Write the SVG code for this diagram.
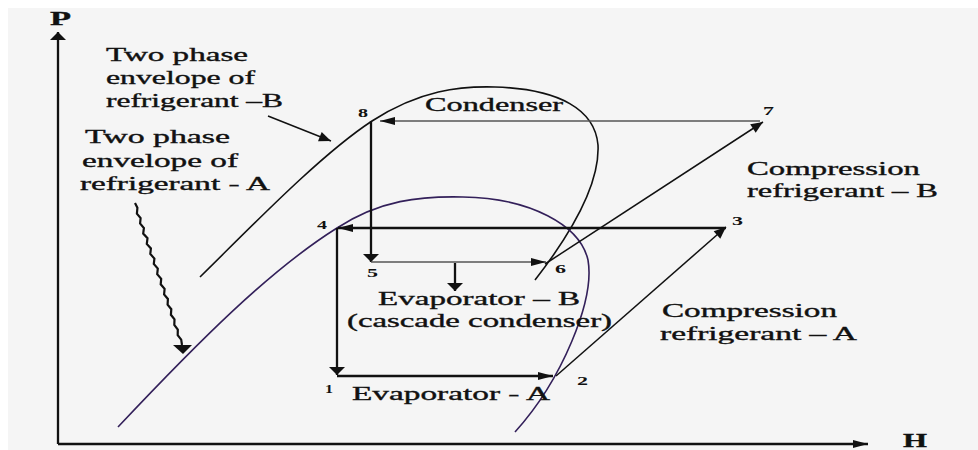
<svg xmlns="http://www.w3.org/2000/svg" width="978" height="450" viewBox="0 0 978 450">
<style>
.t{font-family:"Liberation Serif","Times New Roman",serif;font-size:18px;fill:#111;stroke:#111;stroke-width:0.35}
.n{font-family:"Liberation Serif","Times New Roman",serif;font-size:12px;fill:#111;font-weight:bold}
.thick{stroke:#111;stroke-width:2.3;fill:none}
.thin{stroke:#555;stroke-width:1.3;fill:none}
.mid{stroke:#111;stroke-width:1.5;fill:none}
.envB{stroke:#111;stroke-width:1.6;fill:none}
.envA{stroke:#33205a;stroke-width:1.6;fill:none}
</style>
<defs>
<marker id="ah" markerUnits="userSpaceOnUse" markerWidth="16" markerHeight="10" refX="15" refY="5" orient="auto" overflow="visible"><path d="M0,1 L15,5 L0,9 z" fill="#111"/></marker>
<marker id="av" markerUnits="userSpaceOnUse" markerWidth="9" markerHeight="16" refX="8" refY="8" orient="auto" overflow="visible"><path d="M0,0 L8,8 L0,16 z" fill="#111"/></marker>
<marker id="ad" markerUnits="userSpaceOnUse" markerWidth="13" markerHeight="11" refX="12" refY="5" orient="auto" overflow="visible"><path d="M0,0 L12,5 L0,10 z" fill="#111"/></marker>
</defs>
<rect x="8" y="8" width="970" height="442" fill="#f5f5f5"/>

<g id="axes">
<line x1="58" y1="444" x2="58" y2="32" class="thick" stroke-width="2" marker-end="url(#av)"/>
<line x1="58" y1="444" x2="868" y2="444" class="thick" stroke-width="2" marker-end="url(#ah)"/>
<text class="t" x="50" y="25" font-size="16" font-weight="bold" textLength="21" lengthAdjust="spacingAndGlyphs">P</text>
<text class="t" x="903" y="447" font-weight="bold" textLength="24" lengthAdjust="spacingAndGlyphs">H</text>
</g>

<g id="envelope-B">
<path class="envB" d="M200,277 C250,228 320,155 372,121 C420,90 460,86 495,87 C560,89 595,110 598,145 C600,185 570,235 535,280"/>
</g>
<g id="envelope-A">
<path class="envA" d="M118,427 C200,340 270,270 337,228 C380,200 420,196 463,197 C530,198 580,225 588,260 C595,300 562,380 515,432"/>
</g>

<g id="connectors">
<line class="thin" x1="760" y1="121" x2="380" y2="121" marker-end="url(#ah)"/>
<line class="thick" x1="371" y1="121" x2="371" y2="262" marker-end="url(#av)"/>
<line class="thin" x1="371" y1="262" x2="546" y2="262" marker-end="url(#ah)"/>
<line class="mid" x1="545" y1="264" x2="763" y2="122" marker-end="url(#ad)"/>
<line class="thick" x1="726" y1="228" x2="338" y2="228" marker-end="url(#ah)"/>
<line class="thick" x1="337" y1="228" x2="337" y2="375" marker-end="url(#av)"/>
<line class="thick" x1="337" y1="376" x2="553" y2="376" marker-end="url(#ah)"/>
<line class="mid" x1="556" y1="376" x2="726" y2="227" marker-end="url(#ad)"/>
<line class="thick" x1="455" y1="263" x2="455" y2="291" marker-end="url(#av)"/>
<line class="mid" x1="268" y1="116" x2="331" y2="141" marker-end="url(#ad)"/>
<polyline fill="none" stroke="#111" stroke-width="2.2" points="135,203 137.4,207.8 136.9,213.6 140.6,218 140.1,223.5 143.9,228 143.2,233.6 147.5,238.2 146.8,243.9 150.9,248.4 150.3,254 154.4,258.5 153.8,264 157.8,268.6 157.2,274.2 161.2,278.8 160.7,284.3 164.6,288.9 164.1,294.5 167.9,299 167.6,304.6 171.3,309.2 170.9,314.8 174.5,319.4 174.3,324.9 177.8,329.5 177.7,335.1 181.2,339.7 182,345"/>
<polygon points="173,345 192,345 183,354" fill="#111"/>
</g>

<g id="point-labels">
<text class="n" x="358" y="117" textLength="10" lengthAdjust="spacingAndGlyphs">8</text>
<text class="n" x="763" y="115" textLength="11" lengthAdjust="spacingAndGlyphs">7</text>
<text class="n" x="317" y="229" textLength="10" lengthAdjust="spacingAndGlyphs">4</text>
<text class="n" x="732" y="225" textLength="11" lengthAdjust="spacingAndGlyphs">3</text>
<text class="n" x="367" y="277" textLength="11" lengthAdjust="spacingAndGlyphs">5</text>
<text class="n" x="555" y="273" textLength="11" lengthAdjust="spacingAndGlyphs">6</text>
<text class="n" x="325" y="393" textLength="8" lengthAdjust="spacingAndGlyphs">1</text>
<text class="n" x="577" y="385" textLength="11" lengthAdjust="spacingAndGlyphs">2</text>
</g>

<g id="label-envelope-B">
<text class="t" x="106" y="61" textLength="142" lengthAdjust="spacingAndGlyphs">Two phase</text>
<text class="t" x="106" y="84" textLength="149" lengthAdjust="spacingAndGlyphs">envelope of</text>
<text class="t" x="106" y="107" textLength="177" lengthAdjust="spacingAndGlyphs">refrigerant –B</text>
</g>
<g id="label-envelope-A">
<text class="t" x="85" y="143" textLength="145" lengthAdjust="spacingAndGlyphs">Two phase</text>
<text class="t" x="82" y="167" textLength="156" lengthAdjust="spacingAndGlyphs">envelope of</text>
<text class="t" x="80" y="190" textLength="190" lengthAdjust="spacingAndGlyphs">refrigerant - A</text>
</g>
<g id="label-condenser">
<text class="t" x="425" y="111" textLength="138" lengthAdjust="spacingAndGlyphs">Condenser</text>
</g>
<g id="label-compression-B">
<text class="t" x="747" y="175" textLength="173" lengthAdjust="spacingAndGlyphs">Compression</text>
<text class="t" x="747" y="197" textLength="191" lengthAdjust="spacingAndGlyphs">refrigerant – B</text>
</g>
<g id="label-compression-A">
<text class="t" x="662" y="317" textLength="175" lengthAdjust="spacingAndGlyphs">Compression</text>
<text class="t" x="660" y="340" textLength="197" lengthAdjust="spacingAndGlyphs">refrigerant – A</text>
</g>
<g id="label-evaporator-B">
<text class="t" x="378" y="305" textLength="202" lengthAdjust="spacingAndGlyphs">Evaporator – B</text>
<text class="t" x="347" y="327" textLength="265" lengthAdjust="spacingAndGlyphs">(cascade condenser)</text>
</g>
<g id="label-evaporator-A">
<text class="t" x="352" y="400" textLength="198" lengthAdjust="spacingAndGlyphs">Evaporator - A</text>
</g>
</svg>
